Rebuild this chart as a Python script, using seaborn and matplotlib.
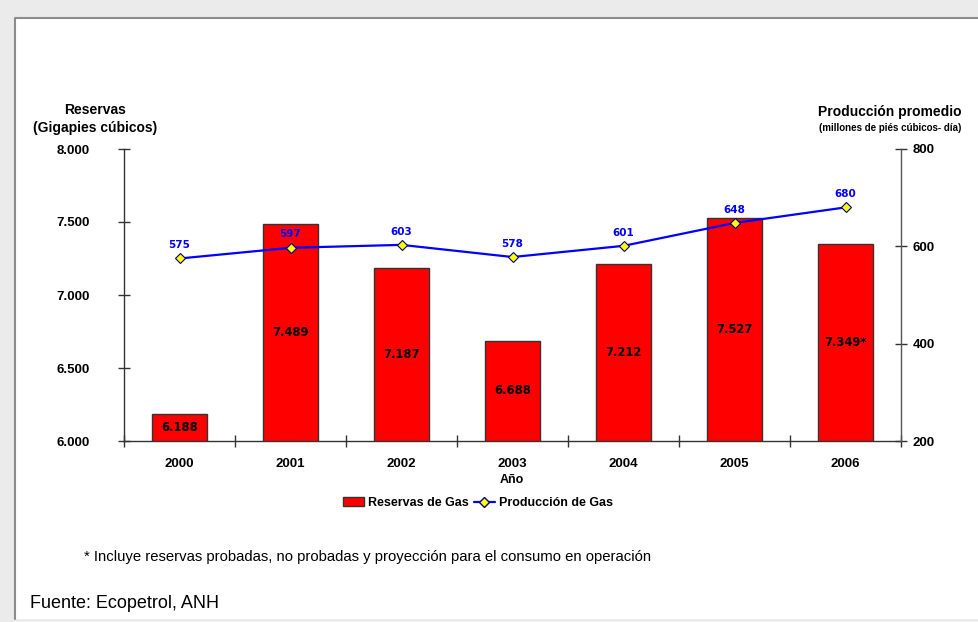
import numpy as np
import pandas as pd
import matplotlib
matplotlib.use("Agg")
import matplotlib.pyplot as plt
from matplotlib.patches import Rectangle, Patch
from matplotlib.lines import Line2D
from matplotlib.ticker import FuncFormatter, FixedLocator
import seaborn as sns

# data
years = ["2000", "2001", "2002", "2003", "2004", "2005", "2006"]
reservas = [6188, 7489, 7187, 6688, 7212, 7527, 7349]
reservas_labels = ["6.188", "7.489", "7.187", "6.688", "7.212", "7.527", "7.349*"]
produccion = [575, 597, 603, 578, 601, 648, 680]

sns.set_theme(style="white")
plt.rcParams['font.family'] = ['Liberation Sans', 'DejaVu Sans']
plt.rcParams['text.color'] = 'black'
plt.rcParams['xtick.color'] = 'black'
plt.rcParams['ytick.color'] = 'black'

df = pd.DataFrame({"year": years, "reservas": reservas, "produccion": produccion})

fig = plt.figure(figsize=(9.79, 6.22), dpi=100)
fig.patch.set_facecolor("#ebebeb")
# white panel, grey border only on top and left
fig.add_artist(Rectangle((15 / 979, 3 / 622), 1.0, 601 / 622, transform=fig.transFigure,
                         facecolor="white", edgecolor="none", zorder=0))
fig.add_artist(Line2D([15 / 979, 15 / 979, 1.0], [3 / 622, 604 / 622, 604 / 622],
                      transform=fig.transFigure, color="#8c8c8c", linewidth=1.5, zorder=1))

ax = fig.add_axes([124 / 979, (622 - 441) / 622, 777 / 979, 292 / 622])
ax.set_facecolor("none")

sns.barplot(data=df, x="year", y="reservas", ax=ax, color="#ff0000", width=0.5,
            edgecolor="#333333", linewidth=1, saturation=1)
ax.set_ylim(6000, 8000)
ax.set_xlim(-0.5, 6.5)
ax.set_yticks([6000, 6500, 7000, 7500, 8000])
ax.yaxis.set_major_formatter(FuncFormatter(lambda v, p: f"{int(v):,}".replace(",", ".")))
ax.set_xlabel("")
ax.set_ylabel("")

for i, (v, lab) in enumerate(zip(reservas, reservas_labels)):
    ax.text(i, (6000 + v) / 2, lab, ha="center", va="center", fontsize=8.3,
            fontweight="bold", color="black", family="DejaVu Sans")

for s in ["top", "right"]:
    ax.spines[s].set_visible(False)
for s in ["left", "bottom"]:
    ax.spines[s].set_color("#333333")
    ax.spines[s].set_linewidth(1)

ax.tick_params(axis="y", direction="inout", length=9, width=1, color="#333333",
               labelsize=9.5, pad=20, left=True)
ax.tick_params(axis="x", which="major", length=0, labelsize=9.5, pad=12)
ax.xaxis.set_minor_locator(FixedLocator(np.arange(-0.5, 7, 1)))
ax.tick_params(axis="x", which="minor", direction="inout", length=9, width=1,
               color="#333333", bottom=True)
for t in ax.get_xticklabels() + ax.get_yticklabels():
    t.set_fontweight("bold")

ax2 = ax.twinx()
sns.lineplot(x=np.arange(len(years)), y=produccion, ax=ax2, color="#0000ff", linewidth=1.6,
             marker="D", markersize=5, markerfacecolor="#ffff00", markeredgecolor="#000080",
             markeredgewidth=0.8)
ax2.set_ylim(200, 800)
ax2.set_xlim(-0.5, 6.5)
ax2.set_yticks([200, 400, 600, 800])
for s in ["top", "left", "bottom"]:
    ax2.spines[s].set_visible(False)
ax2.spines["right"].set_color("#555555")
ax2.spines["right"].set_linewidth(1)
ax2.tick_params(axis="y", direction="inout", length=9, width=1, color="#333333",
                labelsize=9.5, pad=4, right=True)
for t in ax2.get_yticklabels():
    t.set_fontweight("bold")

for i, v in enumerate(produccion):
    ax2.annotate(str(v), (i, v), xytext=(0, 6), textcoords="offset points", ha="center",
                 va="bottom", fontsize=7.5, fontweight="bold", color="#0000ff",
                 family="DejaVu Sans")

# axis titles
fig.text(95 / 979, 1 - 119 / 622, "Reservas\n(Gigapies cúbicos)", ha="center", va="center",
         fontsize=10, fontweight="bold", linespacing=1.3)
fig.text(890 / 979, 1 - 112 / 622, "Producción promedio", ha="center", va="center",
         fontsize=10, fontweight="bold")
fig.text(890 / 979, 1 - 128 / 622, "(millones de piés cúbicos- día)", ha="center", va="center",
         fontsize=7, fontweight="bold")
fig.text(512 / 979, 1 - 480 / 622, "Año", ha="center", va="center", fontsize=9, fontweight="bold")

handles = [Patch(facecolor="#ff0000", edgecolor="#333333", linewidth=1),
           Line2D([], [], color="#0000ff", marker="D", markersize=5, markerfacecolor="#ffff00",
                  markeredgecolor="#000080", linewidth=1.6)]
leg = fig.legend(handles, ["Reservas de Gas", "Producción de Gas"], loc="center",
                 bbox_to_anchor=(478 / 979, 1 - 503 / 622), ncol=2, frameon=False,
                 handlelength=1.7, handletextpad=0.3, columnspacing=0.4,
                 prop={"weight": "bold", "size": 9})

fig.text(84 / 979, 1 - 557 / 622,
         "* Incluye reservas probadas, no probadas y proyección para el consumo en operación",
         ha="left", va="center", fontsize=10.7)
fig.text(30 / 979, 1 - 604 / 622, "Fuente: Ecopetrol, ANH", ha="left", va="center", fontsize=13)

fig.savefig("out.png", dpi=100, facecolor=fig.get_facecolor())
